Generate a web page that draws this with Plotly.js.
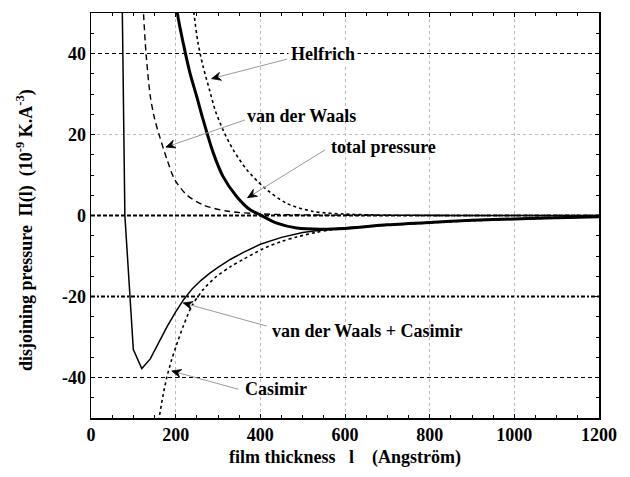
<!DOCTYPE html>
<html><head><meta charset="utf-8">
<script src="https://cdn.plot.ly/plotly-3.0.1.min.js"></script>
<style>html,body{margin:0;padding:0;background:#fff}#chart{width:630px;height:477px}</style>
</head><body><div id="chart"></div>
<script>
// ---- data ----
const helfrichL = [230, 243, 253, 265, 280, 293, 312, 336, 368, 407, 462, 525, 600, 700, 800, 1000, 1200];
const helfrichP = [62, 50, 42.5, 36.7, 31, 26.1, 21.1, 16.2, 11.3, 7.1, 3.0, 1.0, 0.35, 0.1, 0.03, 0, 0];

const vdwL = [118, 124, 130, 140, 150, 161, 179, 198, 226, 265, 320, 400, 500, 600, 800, 1000, 1200];
const vdwP = [62, 50, 40, 29.5, 24, 19.9, 14.0, 8.8, 5.1, 2.6, 1.1, 0.4, 0.15, 0.07, 0.02, 0.01, 0];

const totalL = [195, 204, 218, 234, 250, 265, 289, 312, 344, 376, 399, 439, 486, 541, 600, 700, 800, 900, 1000, 1100, 1200];
const totalP = [60, 50, 42.5, 35.1, 29.3, 23.6, 15.4, 9.6, 4.7, 1.4, 0.2, -1.9, -3.1, -3.4, -3.2, -2.3, -1.7, -1.2, -0.85, -0.55, -0.3];

const vdwCasL = [60, 80, 100, 120, 140, 160, 180, 200, 220, 240, 260, 280, 300, 330, 360, 400, 450, 500, 550, 600, 700, 800, 900, 1000, 1100, 1200];
const vdwCasP = [167, 0, -33.1, -37.8, -35.4, -31.2, -27.4, -23.8, -20.6, -18.0, -16.0, -14.3, -12.8, -10.8, -9.1, -7.1, -5.4, -4.2, -3.5, -3.0, -2.3, -1.7, -1.2, -0.85, -0.55, -0.3];

const casimirL = [150, 161, 170, 179, 190, 201, 218, 238, 265, 297, 330, 360, 407, 450, 486, 530, 565, 600, 700, 800, 900, 1000, 1100, 1200];
const casimirP = [-58, -50, -44.5, -40, -35.8, -32.3, -27.3, -22.4, -18.3, -15, -12.6, -10.8, -8.2, -6.4, -5.3, -4.2, -3.6, -3.2, -2.4, -1.8, -1.3, -0.9, -0.6, -0.3];

const xTickVals = [0, 200, 400, 600, 800, 1000, 1200];
const xTickText = ['0', '200', '400', '600', '800', '1000', '1200'];
const yTickVals = [-40, -20, 0, 20, 40];
const yTickText = ['-40', '-20', '0', '20', '40'];

const labelTexts = ['Helfrich', 'van der Waals', 'total pressure', 'van der Waals + Casimir', 'Casimir'];
const xTitle = 'film thickness\u00a0\u00a0\u00a0l\u00a0\u00a0\u00a0\u00a0(Angström)';
const yTitle = 'disjoining pressure\u00a0\u00a0Π(l)\u00a0\u00a0(10<sup>-9</sup>\u00a0K.A<sup>-3</sup>)';

// ---- layout helpers (annotation placement) ----
const labelPos = [[549, 40], [497, 24.6], [691, 16.9], [654, -28.4], [437, -42.9]];
const arrowTail = [[463, 38.6], [364, 23.6], [553, 16.2], [415, -27.3], [348, -42.9]];
const arrowHead = [[285, 33.8], [177, 16.9], [370, 4.4], [218, -21.6], [191, -38.4]];

const FONT = 'Liberation Serif, Times New Roman, serif';
const W = 630, H = 477, M = {l: 91, r: 31, t: 13, b: 59};
const pxX = (W - M.l - M.r) / 1200, pxY = (H - M.t - M.b) / 100;

const traces = [
  {x: helfrichL, y: helfrichP, mode: 'lines', line: {color: '#000', width: 1.6, dash: 'dot', shape: 'spline', smoothing: 0.8}},
  {x: vdwL, y: vdwP, mode: 'lines', line: {color: '#000', width: 1.4, dash: '6px,4px', shape: 'spline', smoothing: 0.8}},
  {x: casimirL, y: casimirP, mode: 'lines', line: {color: '#000', width: 1.6, dash: 'dot', shape: 'spline', smoothing: 0.8}},
  {x: vdwCasL, y: vdwCasP, mode: 'lines', line: {color: '#000', width: 1.5}},
  {x: totalL, y: totalP, mode: 'lines', line: {color: '#000', width: 3, shape: 'spline', smoothing: 0.8}}
];

const hline = (y, color, width, dash) => ({type: 'line', xref: 'paper', x0: 0, x1: 1, yref: 'y', y0: y, y1: y,
  layer: 'below', line: {color, width, dash}});

const shapes = [
  hline(40, '#000', 1.2, '4px,3px'),
  hline(20, '#bbb', 1, '3px,3px'),
  hline(0, '#000', 2.2, '4px,2px'),
  hline(-20, '#000', 2.2, '4px,2px,2px,2px'),
  hline(-40, '#000', 1.2, '4px,3px')
];

const annotations = [];
labelTexts.forEach((t, i) => {
  const [hx, hy] = arrowHead[i], [tx, ty] = arrowTail[i];
  shapes.push({type: 'line', xref: 'x', yref: 'y', x0: tx, y0: ty, x1: hx, y1: hy, layer: 'above',
    line: {color: '#9a9a9a', width: 1}});
  const dxp = (tx - hx) * pxX, dyp = -(ty - hy) * pxY;
  const len = Math.hypot(dxp, dyp), ux = dxp / len, uy = dyp / len;
  const L = 10, a = 24 * Math.PI / 180;
  const rot = (s) => [ux * Math.cos(s) - uy * Math.sin(s), ux * Math.sin(s) + uy * Math.cos(s)];
  const toD = (px, py) => [hx + px / pxX, hy - py / pxY];
  const [r1x, r1y] = rot(a), [r2x, r2y] = rot(-a);
  const p1 = toD(r1x * L, r1y * L), p2 = toD(r2x * L, r2y * L), pn = toD(ux * L * 0.6, uy * L * 0.6);
  shapes.push({type: 'path', xref: 'x', yref: 'y', layer: 'above',
    path: `M${hx},${hy} L${p1[0]},${p1[1]} L${pn[0]},${pn[1]} L${p2[0]},${p2[1]} Z`,
    fillcolor: '#000', line: {color: '#000', width: 0.8}});
  annotations.push({x: labelPos[i][0], y: labelPos[i][1], xref: 'x', yref: 'y', text: '<b>' + t + '</b>', showarrow: false,
    xanchor: 'center', yanchor: 'middle', bgcolor: i === 0 ? '#fff' : 'rgba(0,0,0,0)', borderpad: 2,
    font: {family: FONT, size: 18, color: '#000'}});
});

annotations.push({xref: 'paper', yref: 'paper', x: (25 - M.l) / (W - M.l - M.r), y: (H - M.b - 230) / (H - M.t - M.b),
  xanchor: 'center', yanchor: 'middle', textangle: -90, showarrow: false,
  text: '<b>' + yTitle + '</b>', font: {family: FONT, size: 18, color: '#000'}});

const layout = {
  width: W, height: H, margin: M, showlegend: false,
  paper_bgcolor: '#fff', plot_bgcolor: '#fff',
  font: {family: FONT, size: 18, color: '#000', weight: 'bold'},
  xaxis: {range: [0, 1200], tickvals: xTickVals, ticktext: xTickText, ticks: 'inside', ticklen: 4, tickcolor: '#000',
    showline: true, linecolor: '#000', linewidth: 1.5, mirror: 'allticks', zeroline: false,
    showgrid: true, gridcolor: '#bbb', griddash: '3px,3px', gridwidth: 1,
    minor: {dtick: 50, ticks: 'inside', ticklen: 3, tickcolor: '#000', showgrid: false},
    tickfont: {family: FONT, size: 18, weight: 'bold'},
    title: {text: '<b>' + xTitle + '</b>', font: {family: FONT, size: 18}, standoff: 6}},
  yaxis: {range: [-50, 50], tickvals: yTickVals, ticktext: yTickText, ticks: 'inside', ticklen: 4, tickcolor: '#000',
    showline: true, linecolor: '#000', linewidth: 1.5, mirror: 'allticks', zeroline: false, showgrid: false,
    minor: {dtick: 5, ticks: 'inside', ticklen: 3, tickcolor: '#000', showgrid: false},
    tickfont: {family: FONT, size: 18, weight: 'bold'}},
  shapes,
  annotations
};

Plotly.newPlot('chart', traces, layout, {staticPlot: true, displayModeBar: false});
</script></body></html>
